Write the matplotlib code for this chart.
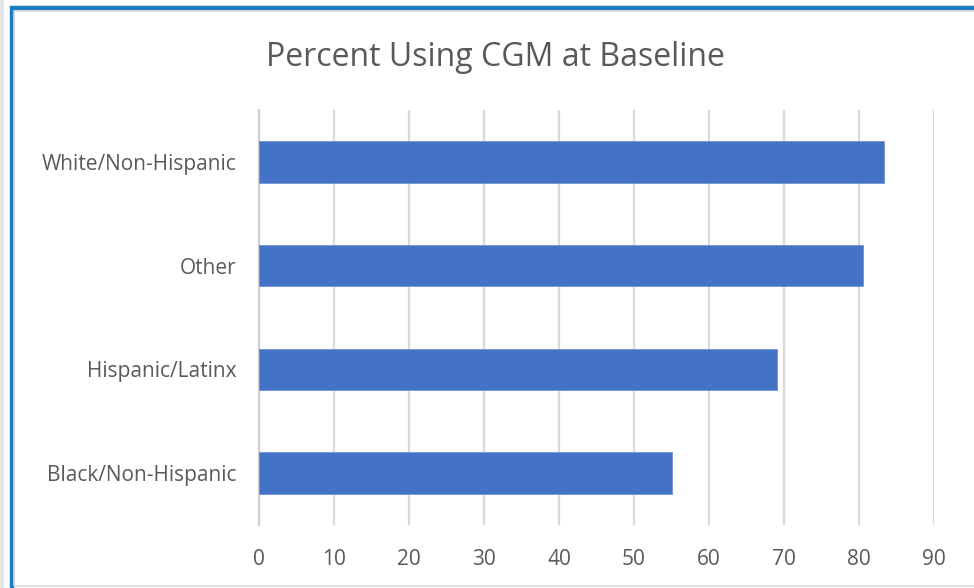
import matplotlib
matplotlib.use('Agg')
import matplotlib.pyplot as plt
import matplotlib.patches as mpatches

categories = ['Black/Non-Hispanic', 'Hispanic/Latinx', 'Other', 'White/Non-Hispanic']
percent_cgm = [55.1, 69.0, 80.5, 83.3]
x_ticks = [0, 10, 20, 30, 40, 50, 60, 70, 80, 90]

plt.rcParams['font.family'] = ['Open Sans', 'DejaVu Sans']

fig = plt.figure(figsize=(9.74, 5.88), dpi=100)
fig.patch.set_facecolor('white')

# outer frame: soft grey shadow plus blue border
fig.patches.append(mpatches.Rectangle(
    (0.0, -0.01), 1.02, 1.02, transform=fig.transFigure,
    fill=False, edgecolor='#e6e6e6', linewidth=5, zorder=0))
fig.patches.append(mpatches.Rectangle(
    (11.5 / 974, -0.02), 1.05, 1 - 7.5 / 588 + 0.02, transform=fig.transFigure,
    fill=False, edgecolor='#1b7dc1', linewidth=3.2, zorder=1))
fig.patches.append(mpatches.Rectangle(
    (13.5 / 974, 2 / 588), 1.05, 1 - 13 / 588, transform=fig.transFigure,
    fill=False, edgecolor='#d9d9d9', linewidth=1.2, zorder=1))

ax = fig.add_axes([259 / 974, 63 / 588, 675 / 974, 415 / 588])
ax.barh(range(len(categories)), percent_cgm, height=0.4,
        color='#4472c4', edgecolor='#6f94d6', linewidth=0.6, zorder=3)

ax.set_xlim(0, 90)
ax.set_ylim(-0.5, len(categories) - 0.5)
ax.set_xticks(x_ticks)
ax.set_xticklabels([str(t) for t in x_ticks])
ax.set_yticks(range(len(categories)))
ax.set_yticklabels(categories)
ax.grid(axis='x', color='#d9d9d9', linewidth=1.6, zorder=0)
for side in ['top', 'right', 'bottom']:
    ax.spines[side].set_visible(False)
ax.spines['left'].set_color('#d0d0d0')
ax.spines['left'].set_linewidth(1.6)
ax.tick_params(axis='both', length=0, labelsize=15, colors='#595959')
ax.tick_params(axis='x', pad=17)
ax.tick_params(axis='y', pad=16)

fig.text(495 / 974, 1 - 57 / 588, 'Percent Using CGM at Baseline',
         ha='center', va='center', fontsize=23, color='#595959')

fig.savefig('out.png', dpi=100, facecolor='white')
